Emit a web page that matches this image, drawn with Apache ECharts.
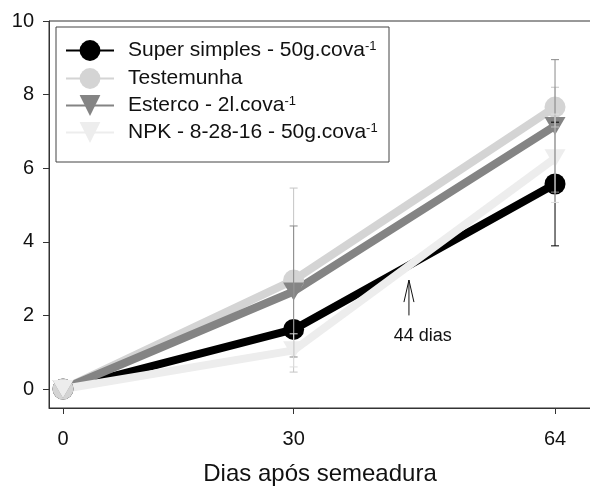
<!DOCTYPE html>
<html>
<head>
<meta charset="utf-8">
<script src="https://cdn.jsdelivr.net/npm/echarts@6/dist/echarts.min.js"></script>
<style>
  html, body { margin: 0; padding: 0; background: #fff; }
  #chart { width: 590px; height: 486px; }
</style>
</head>
<body>
<div id="chart"></div>
<script>
// data
var days = [0, 30, 64];
var seriesNames = ['Super simples - 50g.cova-1', 'Testemunha', 'Esterco - 2l.cova-1', 'NPK - 8-28-16 - 50g.cova-1'];
var superSimples = [0, 1.62, 5.57];
var testemunha = [0, 2.96, 7.66];
var esterco = [0, 2.65, 7.15];
var npk = [0, 1.05, 6.27];
// half length of the error bars
var superErr = [0, 0.1, 1.68];
var testemunhaErr = [0, 2.5, 0.54];
var estercoErr = [0, 1.78, 1.8];
var npkErr = [0, 0.45, 1.2];
var xTicks = [0, 30, 64];
var yTicks = [0, 2, 4, 6, 8, 10];
// annotation "44 dias"
var arrowDay = [45];
var arrowSpan = [2.0, 2.96];
var noteText = '44 dias';
var notePos = [46.8, 1.44];

var FONT = '"Liberation Sans", Arial, sans-serif';
var colors = ['#000000', '#d4d4d4', '#848484', '#ededed'];
var errColors = ['#000000', '#c4c4c4', '#8a8a8a', '#dedede'];

var chart = echarts.init(document.getElementById('chart'));

function lineSeries(name, values, color, symbol) {
  var s = {
    name: name,
    type: 'line',
    data: days.map(function (d, i) { return [d, values[i]]; }),
    lineStyle: { color: color, width: 8 },
    itemStyle: { color: color },
    symbol: symbol,
    symbolSize: 21,
    emphasis: { disabled: true },
    z: 2
  };
  if (symbol === 'triangle') {
    s.symbolRotate = 180;
    s.symbolSize = [21, 18];
  }
  return s;
}

function errSeries(values, errs, color) {
  var data = [];
  days.forEach(function (d, i) {
    if (errs[i] > 0) data.push([d, values[i] - errs[i], values[i] + errs[i]]);
  });
  return {
    type: 'custom',
    silent: true,
    z: 3,
    data: data,
    encode: { x: 0, y: [1, 2] },
    renderItem: function (params, api) {
      var lo = api.coord([api.value(0), api.value(1)]);
      var hi = api.coord([api.value(0), api.value(2)]);
      var w = 4;
      var st = { stroke: color, lineWidth: 1 };
      return {
        type: 'group',
        children: [
          { type: 'line', shape: { x1: lo[0], y1: lo[1], x2: hi[0], y2: hi[1] }, style: st },
          { type: 'line', shape: { x1: lo[0] - w, y1: lo[1], x2: lo[0] + w, y2: lo[1] }, style: st },
          { type: 'line', shape: { x1: hi[0] - w, y1: hi[1], x2: hi[0] + w, y2: hi[1] }, style: st }
        ]
      };
    }
  };
}

var noteSeries = {
  type: 'custom',
  silent: true,
  z: 4,
  data: [[arrowDay[0], arrowSpan[0], arrowSpan[1]]],
  renderItem: function (params, api) {
    var base = api.coord([api.value(0), api.value(1)]);
    var tip = api.coord([api.value(0), api.value(2)]);
    var tp = api.coord(notePos);
    var st = { stroke: '#111', lineWidth: 1 };
    return {
      type: 'group',
      children: [
        { type: 'line', shape: { x1: base[0], y1: base[1], x2: tip[0], y2: tip[1] }, style: st },
        { type: 'polyline', shape: { points: [[tip[0] - 5, tip[1] + 22], [tip[0], tip[1]], [tip[0] + 5, tip[1] + 22]] }, style: { stroke: '#111', lineWidth: 1, fill: null } },
        { type: 'text', x: tp[0], y: tp[1], style: { text: noteText, font: '18px ' + FONT, fill: '#111', align: 'center', verticalAlign: 'middle' } }
      ]
    };
  }
};

var legendRows = [53, 81, 108, 135];
var legends = seriesNames.map(function (n, i) {
  return {
    data: [n],
    orient: 'vertical',
    left: 65,
    top: legendRows[i] - 13,
    itemWidth: 48,
    itemHeight: 26,
    padding: 0,
    selectedMode: false,
    formatter: function (name) {
      var m = name.match(/^(.*)-1$/);
      if (m) return '{n|' + m[1] + '}{sup|-1}';
      return '{n|' + name + '}';
    },
    textStyle: {
      padding: [0, 0, 0, 9],
      rich: {
        n: { fontSize: 21, fontFamily: FONT, color: '#111' },
        sup: { fontSize: 13, fontFamily: FONT, color: '#111', verticalAlign: 'top' }
      }
    }
  };
});

var option = {
  animation: false,
  backgroundColor: '#fff',
  legend: legends,
  graphic: [{
    type: 'rect',
    shape: { x: 56, y: 27, width: 333, height: 135 },
    style: { fill: null, stroke: '#444', lineWidth: 1 },
    z: 10
  }],
  grid: {
    left: 49, top: 21, width: 542, height: 387,
    outerBoundsMode: 'none',
    containLabel: false,
    show: true, borderColor: '#333', borderWidth: 1
  },
  xAxis: {
    type: 'value',
    min: -1.82, max: 68.68,
    name: 'Dias após semeadura',
    nameLocation: 'middle',
    nameGap: 54,
    nameTextStyle: { fontSize: 24, fontFamily: FONT, color: '#111' },
    axisLine: { show: true, onZero: false, lineStyle: { color: '#333' } },
    axisTick: { show: true, length: 6, customValues: xTicks, lineStyle: { color: '#333' } },
    axisLabel: { customValues: xTicks, margin: 21, fontSize: 20, fontFamily: FONT, color: '#111' },
    splitLine: { show: false }
  },
  yAxis: {
    type: 'value',
    min: -0.516, max: 10,
    axisLine: { show: true, onZero: false, lineStyle: { color: '#333' } },
    axisTick: { show: true, length: 6, customValues: yTicks, lineStyle: { color: '#333' } },
    axisLabel: { customValues: yTicks, margin: 15, fontSize: 20, fontFamily: FONT, color: '#111' },
    splitLine: { show: false }
  },
  series: [
    lineSeries(seriesNames[0], superSimples, colors[0], 'circle'),
    lineSeries(seriesNames[1], testemunha, colors[1], 'circle'),
    lineSeries(seriesNames[2], esterco, colors[2], 'triangle'),
    lineSeries(seriesNames[3], npk, colors[3], 'triangle'),
    errSeries(superSimples, superErr, errColors[0]),
    errSeries(testemunha, testemunhaErr, errColors[1]),
    errSeries(esterco, estercoErr, errColors[2]),
    errSeries(npk, npkErr, errColors[3]),
    noteSeries
  ]
};

chart.setOption(option);
</script>
</body>
</html>
